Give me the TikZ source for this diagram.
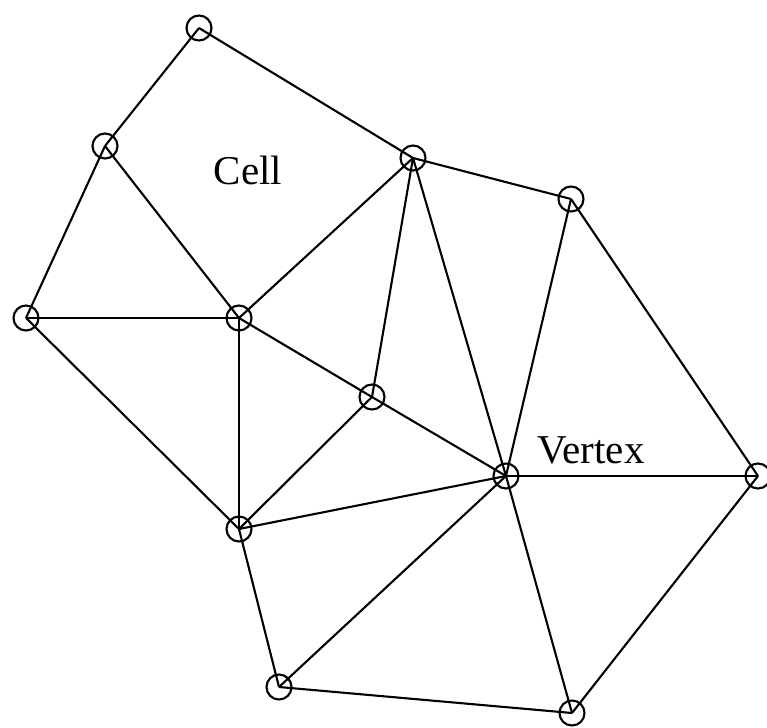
\documentclass[tikz,border=0pt]{standalone}
\usepackage{fontspec}
\setmainfont{Liberation Serif}
\begin{document}
\begin{tikzpicture}[x=1pt,y=-1pt,
  vtx/.style={circle,draw,line width=2.1pt,minimum size=25pt,inner sep=0pt},
  edge/.style={line width=2.1pt,line join=miter},
  lbl/.style={font=\fontsize{41}{48}\selectfont,anchor=base,inner sep=0pt}]
\useasboundingbox (0,0) rectangle (767,727);
\node[vtx] (A) at (199,28) {};
\node[vtx] (B) at (105,146) {};
\node[vtx] (C) at (413,158) {};
\node[vtx] (D) at (571,199) {};
\node[vtx] (E) at (26,318) {};
\node[vtx] (F) at (239,318) {};
\node[vtx] (G) at (372,397) {};
\node[vtx] (H) at (506,476) {};
\node[vtx] (I) at (758,476) {};
\node[vtx] (J) at (239,529) {};
\node[vtx] (K) at (279,687) {};
\node[vtx] (L) at (572,713) {};
\foreach \a/\b in {A/B,A/C,B/E,B/F,C/F,C/G,C/H,C/D,D/H,D/I,E/F,E/J,F/J,F/G,G/J,G/H,J/H,H/I,H/K,H/L,J/K,K/L,L/I}
  \draw[edge] (\a.center) -- (\b.center);
\node[lbl] (cell) at (248,185) {Cell};
\node[lbl] (vertex) at (591,463) {Vertex};
\end{tikzpicture}
\end{document}
